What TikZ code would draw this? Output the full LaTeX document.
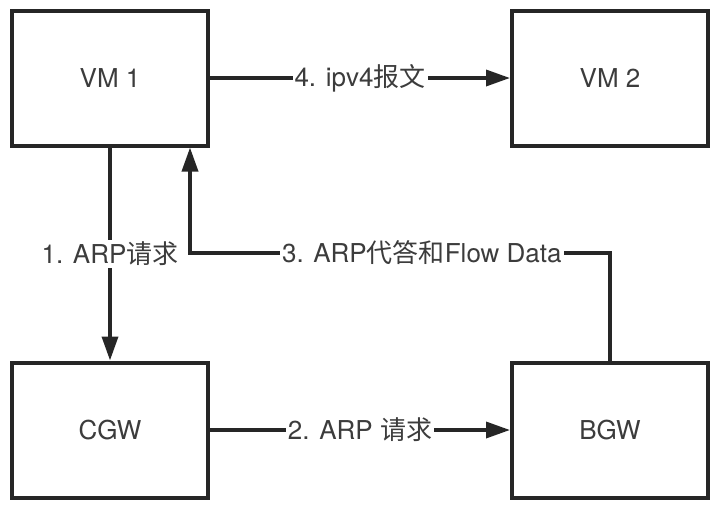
\documentclass[tikz,border=0pt]{standalone}
\usepackage{fontspec}
\setmainfont{TeX Gyre Heros}
\newfontfamily\cjk{Noto Sans CJK SC}
\usepackage{xcolor}
\definecolor{lineGray}{RGB}{38, 38, 38}
\definecolor{textGray}{RGB}{60, 60, 60}
\usetikzlibrary{arrows.meta, positioning}
\tikzset{
    box/.style={draw=lineGray, line width=4pt, fill=white, minimum width=196pt, minimum height=135pt,
        text=textGray, font=\fontsize{26}{30}\selectfont},
    arrow/.style={-{Triangle[length=24pt, width=16pt]}, line width=3.5pt, draw=lineGray},
    lbl/.style={fill=white, text=textGray, inner sep=2pt, font=\fontsize{26}{30}\selectfont}
}

\begin{document}
\begin{tikzpicture}[x=1pt, y=-1pt]
    \useasboundingbox (0,0) rectangle (718,512);

    % --- HOSTS ---
    \node[box] (vm1) at (110,78) {VM 1};
    \node[box, right=300pt of vm1] (vm2) {VM 2};

    % --- GATEWAYS ---
    \node[box] (cgw) at (110,430) {CGW};
    \node[box, right=300pt of cgw] (bgw) {BGW};

    % --- CONNECTIONS ---
    \coordinate (ret) at (190,253);
    \draw[arrow] (vm1.south) -- node[lbl, pos=0.5] {1. ARP{\cjk 请求}} (cgw.north);
    \draw[arrow] (cgw.east) -- node[lbl] {2. ARP {\cjk 请求}} (bgw.west);
    \draw[arrow] (bgw.north) |- node[lbl, pos=0.724] {3. ARP{\cjk 代答和}Flow Data} (ret) -- (ret |- vm1.south);
    \draw[arrow] (vm1.east) -- node[lbl] {4. ipv4{\cjk 报文}} (vm2.west);

\end{tikzpicture}
\end{document}
